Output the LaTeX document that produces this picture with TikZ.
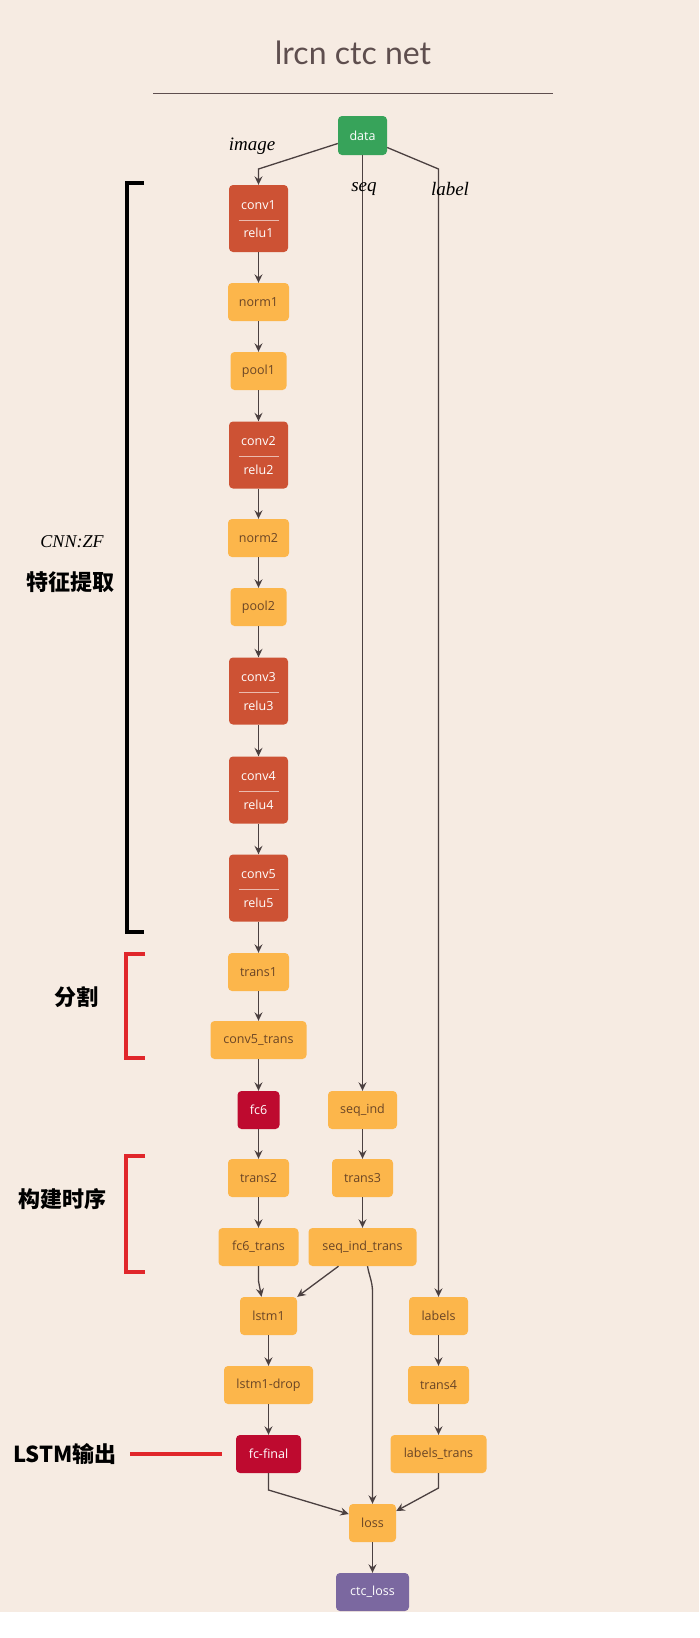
\documentclass[tikz,border=0pt]{standalone}
\usepackage{fontspec}
\setmainfont{Open Sans}
\newfontfamily\cjkfont{Noto Sans CJK SC}
\newfontfamily\titlefont{Lato}
\newfontfamily\italfont{Liberation Serif}
\usetikzlibrary{arrows.meta}

\definecolor{bgbeige}{HTML}{F6EBE2}
\definecolor{blkorange}{HTML}{FCB64B}
\definecolor{blkbrown}{HTML}{6A4526}
\definecolor{convred}{HTML}{CD5234}
\definecolor{fcred}{HTML}{BE0A2F}
\definecolor{datagreen}{HTML}{37A35A}
\definecolor{losspurple}{HTML}{7B68A0}
\definecolor{edgegray}{HTML}{4B4040}
\definecolor{titlegray}{HTML}{5E4E4E}
\definecolor{markred}{HTML}{E0262B}

% conv + relu block: name, y, top text, bottom text
\newcommand{\convpair}[4]{%
  \node[convblk] (#1) at (258.5,#2) {};
  \node[convtxt] (#1top) at ([yshift=13.5pt]#1.center) {#3};
  \node[convtxt] (#1bot) at ([yshift=-14.5pt]#1.center) {#4};
  \draw[convsep] ([xshift=-20pt,yshift=-1.5pt]#1.center) -- ([xshift=20pt,yshift=-1.5pt]#1.center);
}

\begin{document}
\begin{tikzpicture}[x=1pt, y=-1pt,
  blk/.style={rounded corners=4pt, inner sep=0pt, minimum height=38pt,
    font=\fontsize{12.5}{14}\selectfont},
  orangeblk/.style={blk, fill=blkorange, text=blkbrown},
  redblk/.style={blk, fill=fcred, text=white},
  convblk/.style={blk, fill=convred, minimum width=59pt, minimum height=67pt},
  convtxt/.style={inner sep=0pt, text=white, font=\fontsize{12.5}{14}\selectfont},
  convsep/.style={draw=white!60!convred, line width=0.8pt},
  edge/.style={draw=edgegray, line width=1.3pt, -{Stealth[length=8.5pt,width=8pt,inset=3pt]}},
  flowlbl/.style={font=\italfont\itshape\fontsize{19}{21}\selectfont},
  sidelbl/.style={font=\cjkfont\bfseries\fontsize{22}{24}\selectfont},
  bracketred/.style={draw=markred, line width=3.5pt},
]

% ── Canvas ──
\fill[white] (0,0) rectangle (699,1638);
\fill[bgbeige] (0,0) rectangle (699,1612);
\useasboundingbox (0,0) rectangle (699,1638);

% Title
\node[font=\titlefont\fontsize{32}{36}\selectfont, text=titlegray] (title) at (353,53) {lrcn ctc net};
\draw[titlegray, line width=0.9pt] (153,93) -- (553,93);

% ── Input ──
\node[blk, fill=datagreen, text=white, minimum width=49pt, minimum height=39pt] (data) at (362.5,135.5) {data};

% ── CNN column ──
\convpair{conv1}{218.5}{conv1}{relu1}
\node[orangeblk, minimum width=61pt] (norm1) at (258.5,302) {norm1};
\node[orangeblk, minimum width=56pt] (pool1) at (258.5,371) {pool1};
\convpair{conv2}{455}{conv2}{relu2}
\node[orangeblk, minimum width=61pt] (norm2) at (258.5,538) {norm2};
\node[orangeblk, minimum width=56pt] (pool2) at (258.5,607) {pool2};
\convpair{conv3}{691}{conv3}{relu3}
\convpair{conv4}{790}{conv4}{relu4}
\convpair{conv5}{888}{conv5}{relu5}
\node[orangeblk, minimum width=61pt] (trans1) at (258.5,972) {trans1};
\node[orangeblk, minimum width=96pt] (conv5trans) at (258.5,1040) {conv5\_trans};
\node[redblk, minimum width=42pt] (fc6) at (258.5,1110) {fc6};
\node[orangeblk, minimum width=61pt] (trans2) at (258.5,1178) {trans2};
\node[orangeblk, minimum width=80pt] (fc6trans) at (258.5,1247) {fc6\_trans};

% ── seq column ──
\node[orangeblk, minimum width=69pt] (seqind) at (362.5,1110) {seq\_ind};
\node[orangeblk, minimum width=61pt] (trans3) at (362.5,1178) {trans3};
\node[orangeblk, minimum width=108pt] (seqindtrans) at (362.5,1247) {seq\_ind\_trans};

% ── LSTM ──
\node[orangeblk, minimum width=57pt] (lstm1) at (268.5,1316) {lstm1};
\node[orangeblk, minimum width=89pt] (lstm1drop) at (268.5,1385) {lstm1-drop};
\node[redblk, minimum width=65pt] (fcfinal) at (268.5,1454) {fc-final};

% ── label column ──
\node[orangeblk, minimum width=59pt] (labels) at (438.5,1316) {labels};
\node[orangeblk, minimum width=61pt] (trans4) at (438.5,1385) {trans4};
\node[orangeblk, minimum width=96pt] (labelstrans) at (438.5,1454) {labels\_trans};

% ── Loss ──
\node[orangeblk, minimum width=47pt] (loss) at (372.5,1523) {loss};
\node[blk, fill=losspurple, text=white, minimum width=73pt] (ctcloss) at (372.5,1592) {ctc\_loss};

% Bend points
\coordinate (imgbend) at (258.5,169);
\coordinate (lblbend) at (438.5,169);
\coordinate (fcbend) at (258.5,1281);
\coordinate (seqbend) at (372.5,1292);
\coordinate (ffbend) at (268.5,1490);
\coordinate (ltbend) at (438.5,1488);

% ── Edges ──
\draw[edge] ([yshift=-8pt]data.west) -- (imgbend) -- (conv1.north);
\draw[edge] (data.south) -- (seqind.north);
\draw[edge] ([yshift=-12pt]data.east) -- (lblbend) -- (labels.north);
\foreach \a/\b in {conv1/norm1, norm1/pool1, pool1/conv2, conv2/norm2, norm2/pool2,
    pool2/conv3, conv3/conv4, conv4/conv5, conv5/trans1, trans1/conv5trans,
    conv5trans/fc6, fc6/trans2, trans2/fc6trans, seqind/trans3, trans3/seqindtrans,
    lstm1/lstm1drop, lstm1drop/fcfinal, labels/trans4, trans4/labelstrans, loss/ctcloss}
  \draw[edge] (\a.south) -- (\b.north);
\draw[edge] (fc6trans.south) -- (fcbend) -- ([xshift=-7pt]lstm1.north);
\draw[edge] ([xshift=-24pt]seqindtrans.south) -- (lstm1.north east);
\draw[edge] ([xshift=5pt]seqindtrans.south) to[out=-80, in=90] (seqbend) -- (loss.north);
\draw[edge] (fcfinal.south) -- (ffbend) -- ([yshift=9pt]loss.west);
\draw[edge] (labelstrans.south) -- (ltbend) -- ([yshift=12pt]loss.east);

% Flow labels
\node[flowlbl] (imglbl) at (252,146) {image};
\node[flowlbl] (seqlbl) at (364,189) {seq};
\node[flowlbl] (lbllbl) at (450,189) {label};

% ── Side brackets ──
\draw[black, line width=4pt] (144,183) -- (127,183) -- (127,932) -- (144,932);
\node[font=\italfont\itshape\fontsize{18}{20}\selectfont] (cnnzf) at (72,542) {CNN:ZF};
\node[sidelbl] (featlbl) at (71,582) {特征提取};

\draw[bracketred] (145,954) -- (126,954) -- (126,1058) -- (145,1058);
\node[sidelbl] (seglbl) at (76,997) {分割};

\draw[bracketred] (145,1156) -- (126,1156) -- (126,1272) -- (145,1272);
\node[sidelbl] (timelbl) at (63,1199) {构建时序};

\node[sidelbl] (lstmout) at (65,1454) {LSTM输出};
\draw[bracketred] ([xshift=10pt]lstmout.east) -- ([xshift=-14pt]fcfinal.west);

\end{tikzpicture}
\end{document}
